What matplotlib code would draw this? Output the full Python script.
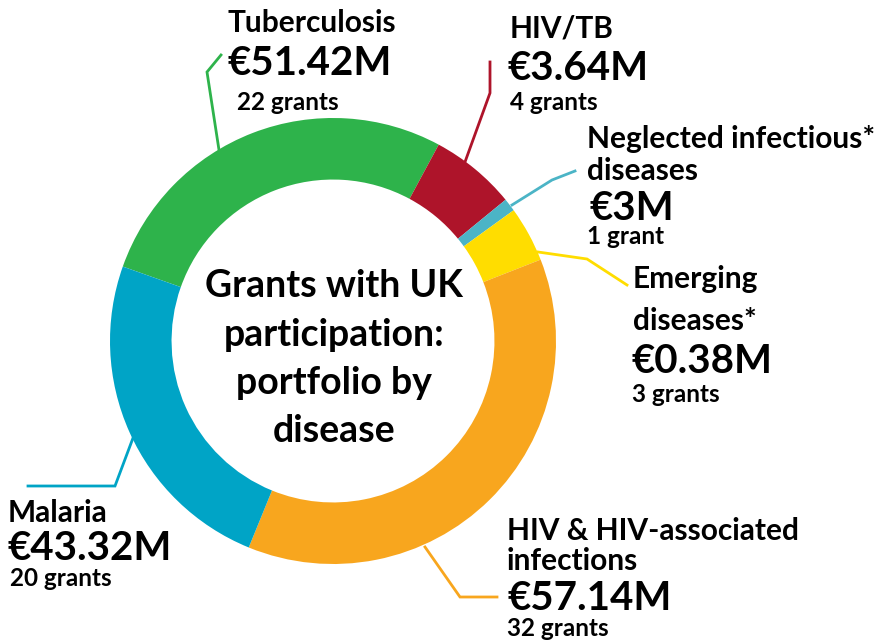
import matplotlib.pyplot as plt

plt.rcParams['font.family'] = ['Lato', 'DejaVu Sans']

# Portfolio by disease (grants with UK participation)
diseases = ["Tuberculosis", "HIV/TB", "Neglected infectious*\ndiseases",
            "Emerging\ndiseases*", "HIV & HIV-associated\ninfections", "Malaria"]
amounts = [51.42, 3.64, 3, 0.38, 57.14, 43.32]   # EUR millions
grants = [22, 4, 1, 3, 32, 20]
arc_deg = [98.8, 22.4, 3.4, 14.5, 133.6, 87.3]   # slice sizes as drawn in the chart
colors = ["#2eb34b", "#ae142a", "#4bb4c6", "#ffdd00", "#f8a61e", "#00a4c6"]
center_title = "Grants with UK\nparticipation:\nportfolio by\ndisease"

W, H = 876, 644
def Y(y):  # pixel row (top-down) -> axis coordinate
    return H - y

# label layout: x, name baselines, amount (x, baseline), grants (x, baseline)
label_pos = [
    (227, [32], (227, 75), (237, 110)),
    (510, [37], (508, 80), (510, 110)),
    (587, [148, 180], (590, 220), (587, 244)),
    (633, [288, 330], (632, 373), (632, 402)),
    (507, [540, 570], (507, 610), (507, 636)),
    (8, [522], (8, 560), (10, 586)),
]
# leader lines (pixel coords)
leaders = [
    [(221, 55), (207, 72), (219, 150)],
    [(490, 62), (490, 93), (465, 162)],
    [(575, 171), (552, 180), (512, 205)],
    [(538, 252), (587, 259), (627, 285)],
    [(425, 547), (460, 597), (497, 597)],
    [(28, 486), (115, 486), (133, 438)],
]

fig = plt.figure(figsize=(W / 100, H / 100), dpi=100)
ax = fig.add_axes([0, 0, 1, 1])

R = 223
ax.pie(arc_deg, colors=colors, startangle=160.5, counterclock=False,
       radius=R, center=(333, Y(341)),
       wedgeprops=dict(width=R * 0.276, linewidth=0))
ax.set_xlim(0, W)
ax.set_ylim(0, H)
ax.set_aspect('equal')
ax.axis('off')

for pts, c in zip(leaders, colors):
    ax.plot([p[0] for p in pts], [Y(p[1]) for p in pts], color=c, lw=2,
            solid_joinstyle='miter')

# center text
for i, line in enumerate(center_title.split("\n")):
    ax.text(334, Y(297 + i * 48.5), line, ha='center', va='baseline',
            fontsize=27, fontweight='bold', color='black')

for name, amt, g, (x, name_ys, (ax_x, ay), (gx, gy)) in zip(diseases, amounts, grants, label_pos):
    for line, by in zip(name.split("\n"), name_ys):
        ax.text(x, Y(by), line, ha='left', va='baseline', fontsize=21.5,
                fontweight='bold', color='black')
    ax.text(ax_x, Y(ay), f"€{amt:g}M", ha='left', va='baseline', fontsize=29,
            fontweight='bold', color='black')
    ax.text(gx, Y(gy), f"{g} grant" + ("s" if g != 1 else ""), ha='left',
            va='baseline', fontsize=17.5, fontweight='bold', color='black')

fig.savefig("out.png", dpi=100)
